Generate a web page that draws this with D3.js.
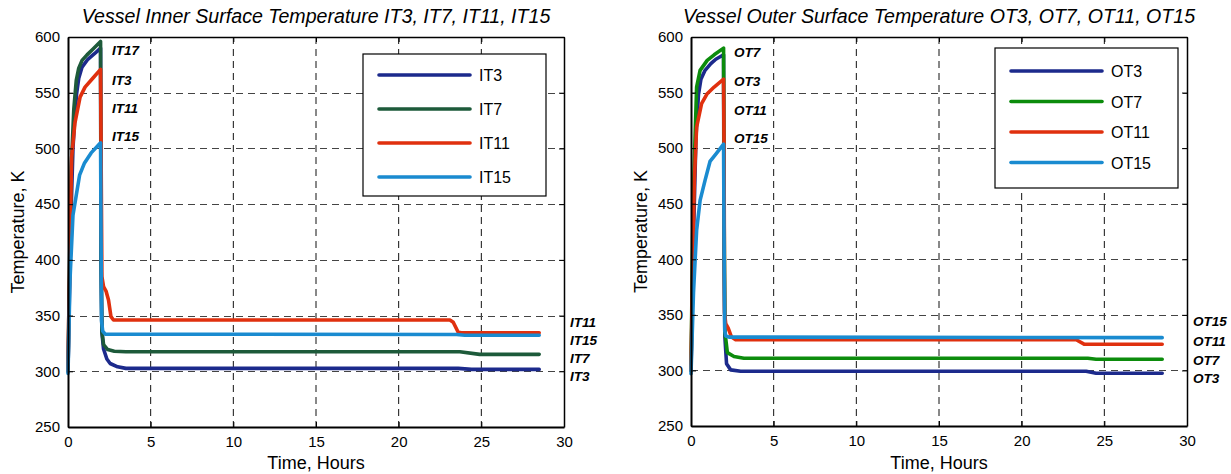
<!DOCTYPE html>
<html>
<head>
<meta charset="utf-8">
<script src="https://cdn.jsdelivr.net/npm/d3@7"></script>
<style>
  body { margin: 0; background: #fff; }
  svg { display: block; font-family: "Liberation Sans", Arial, sans-serif; }
  .axis path, .axis line { stroke: #000; }
  .axis text { font-size: 15px; fill: #000; }
</style>
</head>
<body>
<svg id="chart" width="1231" height="474"></svg>
<script>
// 轴刻度
const xTicks = [0, 5, 10, 15, 20, 25, 30];
const yTicks = [250, 300, 350, 400, 450, 500, 550, 600];

// 内表面温度 [小时, K]
const it3 = [[0,300],[0.1,380],[0.2,450],[0.3,500],[0.42,530],[0.52,549],[0.65,563],[0.85,573],[1.2,580],[1.6,585],[1.97,590],[2.0,400],[2.05,335],[2.15,320],[2.35,311],[2.55,307],[3.0,304],[3.5,302.6],[23.6,302.6],[24.4,301.7],[28.5,301.7]];
const it7 = [[0,300],[0.1,400],[0.2,483],[0.35,535],[0.5,561],[0.65,572],[0.85,579],[1.15,584],[1.5,589],[1.97,596],[2.0,400],[2.05,336],[2.15,324],[2.4,319.5],[2.8,318],[3.5,317.5],[23.7,317.5],[24.9,315.2],[28.5,315.2]];
const it11 = [[0,300],[0.04,345],[0.08,373],[0.15,440],[0.22,492],[0.42,523],[0.73,546],[1.03,555],[1.5,563],[1.97,571],[2.0,500],[2.05,385],[2.15,376],[2.3,372],[2.45,364],[2.6,349],[2.75,346],[23.1,346],[23.3,344],[23.6,335],[23.8,334.5],[28.5,334.5]];
const it15 = [[0,298],[0.12,382],[0.3,440],[0.5,458],[0.7,476],[1.0,487],[1.4,496],[1.97,505],[2.0,420],[2.03,345],[2.1,336],[2.25,333.3],[23.5,333],[24.0,332.4],[28.5,332.4]];

// 外表面温度 [小时, K]
const ot3 = [[0,300],[0.15,420],[0.3,510],[0.45,548],[0.6,562],[0.85,570],[1.2,576],[1.5,580],[1.97,584],[2.0,400],[2.05,330],[2.15,306],[2.4,300.5],[3.0,299.3],[23.9,299.3],[24.5,297.5],[28.5,297.5]];
const ot7 = [[0,300],[0.1,420],[0.18,477],[0.34,555],[0.55,570],[0.98,579],[1.4,584],[1.97,590],[2.0,450],[2.05,335],[2.2,316],[2.6,312.5],[3.2,311],[24.0,311],[24.5,310],[28.5,310]];
const ot11 = [[0,300],[0.1,400],[0.2,470],[0.34,519],[0.64,540],[0.98,549],[1.4,555],[1.97,562],[2.0,500],[2.03,352],[2.1,342],[2.25,338],[2.45,330],[2.7,327.6],[23.3,327.6],[23.8,323.5],[28.5,323.5]];
const ot15 = [[0,297],[0.15,370],[0.34,426],[0.55,453],[0.85,471],[1.15,488],[1.55,495.5],[1.97,503.6],[2.0,420],[2.04,336],[2.1,331],[2.3,330],[28.5,329.5]];

const innerNames = ["IT3", "IT7", "IT11", "IT15"];
const outerNames = ["OT3", "OT7", "OT11", "OT15"];
const innerColors = ["#1c2a8c", "#1d5a3a", "#e0300e", "#1a8bd0"];
const outerColors = ["#1c2a8c", "#0c8c0c", "#e0300e", "#1a8bd0"];

// 峰值标签和末端标签 (文字)
const innerPeakLabels = ["IT17", "IT3", "IT11", "IT15"];
const innerEndLabels = ["IT11", "IT15", "IT7", "IT3"];
const outerPeakLabels = ["OT7", "OT3", "OT11", "OT15"];
const outerEndLabels = ["OT15", "OT11", "OT7", "OT3"];

const svg = d3.select("#chart");

function drawPanel(cfg) {
    const x = d3.scaleLinear().domain([0, 30]).range([cfg.x0, cfg.x1]);
    const y = d3.scaleLinear().domain([250, 600]).range([cfg.y1, cfg.y0]);
    const g = svg.append("g");

    // 网格
    g.selectAll("line.vgrid")
        .data(xTicks.slice(1, -1))
        .enter().append("line")
        .attr("x1", d => x(d)).attr("x2", d => x(d))
        .attr("y1", cfg.y0).attr("y2", cfg.y1)
        .attr("stroke", "#111").attr("stroke-width", 1)
        .attr("stroke-dasharray", "7,5");
    g.selectAll("line.hgrid")
        .data(yTicks.slice(1, -1))
        .enter().append("line")
        .attr("x1", cfg.x0).attr("x2", cfg.x1)
        .attr("y1", d => Math.round(y(d)) + 0.5).attr("y2", d => Math.round(y(d)) + 0.5)
        .attr("stroke", "#444").attr("stroke-width", 1)
        .attr("stroke-dasharray", "7,5");

    // 曲线
    const line = d3.line().x(d => x(d[0])).y(d => y(d[1]));
    cfg.series.forEach((s, i) => {
        g.append("path")
            .datum(s)
            .attr("fill", "none")
            .attr("stroke", cfg.colors[i])
            .attr("stroke-width", 3.6)
            .attr("stroke-linejoin", "round")
            .attr("stroke-linecap", "round")
            .attr("d", line);
    });

    // 坐标轴 (刻度朝内)
    g.append("g").attr("class", "axis")
        .attr("transform", `translate(0,${cfg.y1})`)
        .call(d3.axisBottom(x).tickValues(xTicks).tickSizeInner(-5).tickSizeOuter(0).tickPadding(9))
        .select(".domain").attr("stroke-width", 2);
    g.append("g").attr("class", "axis")
        .attr("transform", `translate(${cfg.x0},0)`)
        .call(d3.axisLeft(y).tickValues(yTicks).tickSizeInner(-5).tickSizeOuter(0).tickPadding(8))
        .select(".domain").attr("stroke-width", 2);
    g.append("g").attr("class", "axis")
        .attr("transform", `translate(0,${cfg.y0})`)
        .call(d3.axisTop(x).tickValues(xTicks).tickSizeInner(-5).tickSizeOuter(0).tickFormat(""))
        .select(".domain").attr("stroke-width", 1.5);
    g.append("g").attr("class", "axis")
        .attr("transform", `translate(${cfg.x1},0)`)
        .call(d3.axisRight(y).tickValues(yTicks).tickSizeInner(-5).tickSizeOuter(0).tickFormat(""))
        .select(".domain").attr("stroke-width", 1.5);

    // 标题和轴标签
    g.append("text")
        .attr("x", (cfg.x0 + cfg.x1) / 2).attr("y", 23)
        .attr("text-anchor", "middle")
        .style("font-size", "19.6px").style("font-style", "italic")
        .text(cfg.title);
    g.append("text")
        .attr("x", (cfg.x0 + cfg.x1) / 2).attr("y", 469)
        .attr("text-anchor", "middle")
        .style("font-size", "18px")
        .text("Time, Hours");
    g.append("text")
        .attr("transform", `translate(${cfg.x0 - 44},${(cfg.y0 + cfg.y1) / 2}) rotate(-90)`)
        .attr("text-anchor", "middle")
        .style("font-size", "18px")
        .text("Temperature, K");

    // 峰值标签
    g.selectAll("text.peak")
        .data(cfg.peakLabels)
        .enter().append("text")
        .attr("x", cfg.peakX)
        .attr("y", (d, i) => cfg.peakY[i])
        .style("font-size", "13.5px").style("font-weight", "bold").style("font-style", "italic")
        .text(d => d);
    // 末端标签
    g.selectAll("text.end")
        .data(cfg.endLabels)
        .enter().append("text")
        .attr("x", cfg.x1 + 6)
        .attr("y", (d, i) => cfg.endY[i])
        .style("font-size", "13.5px").style("font-weight", "bold").style("font-style", "italic")
        .text(d => d);

    // 图例
    const lg = cfg.legend;
    g.append("rect")
        .attr("x", lg.x).attr("y", lg.y).attr("width", lg.w).attr("height", lg.h)
        .attr("fill", "#fff").attr("stroke", "#000").attr("stroke-width", 1.2);
    cfg.names.forEach((n, i) => {
        const ly = lg.y + lg.first + i * lg.step;
        g.append("line")
            .attr("x1", lg.x + 16).attr("x2", lg.x + 107)
            .attr("y1", ly).attr("y2", ly)
            .attr("stroke", cfg.colors[i]).attr("stroke-width", 3.6)
            .attr("stroke-linecap", "round");
        g.append("text")
            .attr("x", lg.x + 116).attr("y", ly + 6)
            .style("font-size", "16px")
            .text(n);
    });
}

drawPanel({
    x0: 68, x1: 564, y0: 37, y1: 427,
    title: "Vessel Inner Surface Temperature IT3, IT7, IT11, IT15",
    series: [it3, it7, it11, it15],
    colors: innerColors,
    names: innerNames,
    peakLabels: innerPeakLabels, peakX: 112, peakY: [55, 85, 113, 141],
    endLabels: innerEndLabels, endY: [327, 345, 363, 381],
    legend: { x: 363, y: 54, w: 183, h: 142, first: 21, step: 34 }
});

drawPanel({
    x0: 691, x1: 1187, y0: 37, y1: 426,
    title: "Vessel Outer Surface Temperature OT3, OT7, OT11, OT15",
    series: [ot3, ot7, ot11, ot15],
    colors: outerColors,
    names: outerNames,
    peakLabels: outerPeakLabels, peakX: 734, peakY: [57, 86, 115, 143],
    endLabels: outerEndLabels, endY: [326, 346, 365, 383],
    legend: { x: 995, y: 48, w: 183, h: 140, first: 23, step: 30.5 }
});
</script>
</body>
</html>
